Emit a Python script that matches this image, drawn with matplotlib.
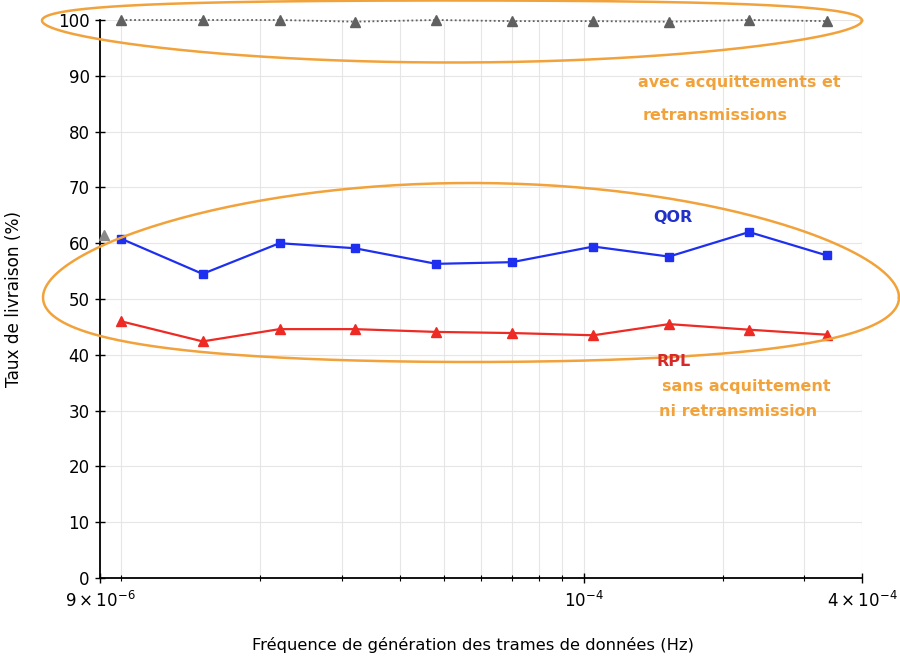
import numpy as np
import matplotlib
matplotlib.use("Agg")
import matplotlib.pyplot as plt
from matplotlib.ticker import FixedLocator, NullFormatter

# ── data ──────────────────────────────────────────────────────────────────────
FREQ = [1.0e-5, 1.5e-5, 2.2e-5, 3.2e-5, 4.8e-5, 7.0e-5, 1.05e-4, 1.53e-4, 2.28e-4, 3.36e-4]

ACK   = [100.0, 100.0, 100.0, 99.7, 100.0, 99.8, 99.8, 99.7, 100.0, 99.8]
QOR   = [60.8, 54.5, 60.0, 59.1, 56.3, 56.6, 59.4, 57.6, 62.0, 57.8]
RPL   = [46.0, 42.4, 44.6, 44.6, 44.1, 43.9, 43.5, 45.5, 44.5, 43.6]

# stray point near the y axis
EXTRA_X = [9.2e-6]
EXTRA_Y = [61.5]

XTICKS_MAJOR  = [9e-6, 1e-4, 4e-4]
XTICK_LABELS  = [r"$9\times10^{-6}$", r"$10^{-4}$", r"$4\times10^{-4}$"]
XTICKS_MINOR  = [1e-5, 2e-5, 3e-5, 4e-5, 5e-5, 6e-5, 7e-5, 8e-5, 9e-5, 2e-4, 3e-4]
YTICKS        = list(range(0, 101, 10))

ORANGE = "#F2A23A"
BLUE   = "#1E2FF0"
RED    = "#EE2A24"
GREY   = "#606060"

W, H = 900, 661

# ── figure ────────────────────────────────────────────────────────────────────
fig = plt.figure(figsize=(W / 100, H / 100), dpi=100)
fig.patch.set_facecolor("white")
ax = fig.add_axes([100 / W, (H - 578) / H, 762 / W, 558 / H])

ax.set_xscale("log")
ax.set_xlim(9e-6, 4e-4)
ax.set_ylim(0, 100)

ax.plot(FREQ, ACK, color=GREY, linestyle=(0, (1, 1.4)), linewidth=1.3,
        marker="^", markersize=7, clip_on=False, zorder=3)
ax.plot(EXTRA_X, EXTRA_Y, color="#888888", linestyle="None",
        marker="^", markersize=7, clip_on=False, zorder=3)
ax.plot(FREQ, QOR, color=BLUE, linewidth=1.6,
        marker="s", markersize=6, clip_on=False, zorder=4)
ax.plot(FREQ, RPL, color=RED, linewidth=1.6,
        marker="^", markersize=7, clip_on=False, zorder=4)

ax.xaxis.set_major_locator(FixedLocator(XTICKS_MAJOR))
ax.set_xticklabels(XTICK_LABELS)
ax.xaxis.set_minor_locator(FixedLocator(XTICKS_MINOR))
ax.xaxis.set_minor_formatter(NullFormatter())
ax.set_yticks(YTICKS)

ax.tick_params(axis="both", which="major", direction="inout", length=7,
               width=1.0, labelsize=12, colors="black")
ax.tick_params(axis="x", which="minor", direction="inout", length=5, width=0.8)
ax.tick_params(axis="x", which="major", pad=6)
ax.tick_params(axis="y", pad=4)

ax.grid(which="both", color="#e6e6e6", linewidth=0.8)
ax.set_axisbelow(True)
for side in ("top", "right"):
    ax.spines[side].set_visible(False)
for side in ("left", "bottom"):
    ax.spines[side].set_linewidth(1.3)

ax.set_xlabel("Fréquence de génération des trames de données (Hz)", fontsize=11.8)
ax.set_ylabel("Taux de livraison (%)", fontsize=12.2)
ax.xaxis.set_label_coords(0.4895, -0.105)
ax.yaxis.set_label_coords(-0.101, 0.5)

# ── annotation overlay in pixel space ─────────────────────────────────────────
ov = fig.add_axes([0, 0, 1, 1], facecolor="none")
ov.set_xlim(0, W)
ov.set_ylim(H, 0)
ov.axis("off")


def egg(cx, cy, a, b, d):
    t = np.linspace(0, 2 * np.pi, 400)
    return cx + a * np.cos(t), cy + b * np.sin(t) + d * np.cos(2 * t)


ex, ey = egg(452, 26, 410, 31, -5.5)
ov.plot(ex, ey, color=ORANGE, linewidth=1.8, clip_on=False)
ex, ey = egg(471, 285, 428, 89.5, 12.5)
ov.plot(ex, ey, color=ORANGE, linewidth=1.8, clip_on=False)

txt = dict(fontsize=11.5, fontweight="bold", va="center", ha="left")
ov.text(638, 82, "avec acquittements et", color=ORANGE, **txt)
ov.text(643, 115, "retransmissions", color=ORANGE, **txt)
ov.text(653, 218, "QOR", color="#2030C8", **txt)
ov.text(657, 362, "RPL", color="#D62A2A", **txt)
ov.text(662, 386, "sans acquittement", color=ORANGE, **txt)
ov.text(659, 411, "ni retransmission", color=ORANGE, **txt)

fig.savefig("out.png", dpi=100)
